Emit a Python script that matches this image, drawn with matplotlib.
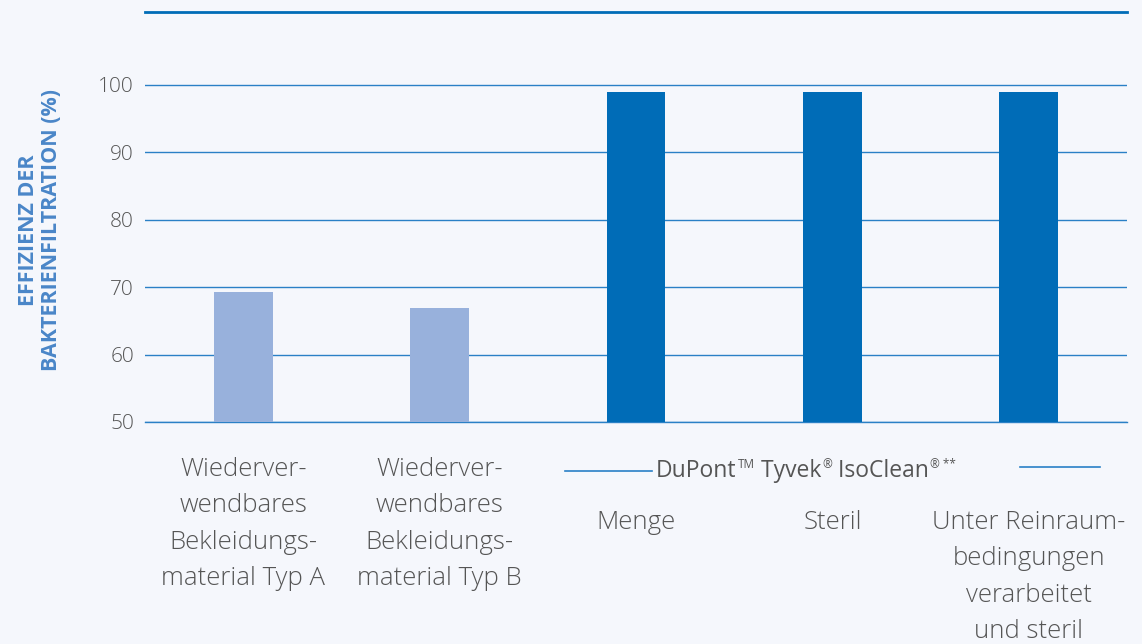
import matplotlib
matplotlib.use("Agg")
from matplotlib import pyplot as plt
from matplotlib import transforms

# Data
categories = [
    "Wiederver-\nwendbares\nBekleidungs-\nmaterial Typ A",
    "Wiederver-\nwendbares\nBekleidungs-\nmaterial Typ B",
    "Menge",
    "Steril",
    "Unter Reinraum-\nbedingungen\nverarbeitet\nund steril",
]
values = [69.3, 66.9, 98.9, 98.9, 98.9]
group_parts = [("DuPont", False), ("TM", True), (" Tyvek", False), ("®", True),
               (" IsoClean", False), ("® **", True)]
y_ticks = [50, 60, 70, 80, 90, 100]
y_label = "EFFIZIENZ DER\nBAKTERIENFILTRATION (%)"

bg = "#f5f7fc"
light_bar = "#98b1dc"
dark_bar = "#006cb7"
grid_col = "#2a80c6"
text_col = "#555555"
label_col = "#4a86c8"

plt.rcParams["font.family"] = ["Open Sans", "DejaVu Sans"]

W, H = 1142, 644
fig = plt.figure(figsize=(W / 100, H / 100), dpi=100, facecolor=bg)
ax = fig.add_axes([145 / W, 1 - 422 / H, 982 / W, 410 / H])
ax.set_facecolor(bg)

x = list(range(len(categories)))
colors = [light_bar, light_bar, dark_bar, dark_bar, dark_bar]
ax.bar(x, [v - 50 for v in values], bottom=50, width=0.30, color=colors, zorder=3)

ax.set_xlim(-0.5, len(categories) - 0.5)
ax.set_ylim(50, 110.8)
ax.set_yticks(y_ticks)
ax.set_yticklabels([str(t) for t in y_ticks], fontsize=15, color=text_col, fontweight="light")
ax.tick_params(axis="y", length=0, pad=8)
ax.set_xticks([])
ax.grid(axis="y", color=grid_col, linewidth=1, zorder=0)
ax.axhline(50, color=grid_col, linewidth=1, zorder=1, clip_on=False)

for side in ["left", "right", "bottom"]:
    ax.spines[side].set_visible(False)
ax.spines["top"].set_color(dark_bar)
ax.spines["top"].set_linewidth(2)

# category labels below the axis
trans = transforms.blended_transform_factory(ax.transData, fig.transFigure)
for i, cat in enumerate(categories):
    y0 = 1 - 457 / H if i < 2 else 1 - 510 / H
    ax.text(i, y0, cat, transform=trans, ha="center", va="top", fontsize=18.5,
            color=text_col, linespacing=1.6, fontweight="light")

# group label "DuPont(TM) Tyvek(R) IsoClean(R) **" built from pieces, centred
renderer = fig.canvas.get_renderer()
pieces = []
widths = []
for txt, sup in group_parts:
    t = fig.text(0, 0, txt, fontsize=8.5 if sup else 16.5, color=text_col,
                 transform=transforms.IdentityTransform(), va="baseline", ha="left")
    pieces.append((t, sup))
    widths.append(t.get_window_extent(renderer).width + (1 if sup else 0))
cx, base = 806, H - 477
xpos = cx - sum(widths) / 2
for (t, sup), w in zip(pieces, widths):
    t.set_position((xpos + (1 if sup else 0), base + (9 if sup else 0)))
    xpos += w

fig.add_artist(plt.Line2D([565 / W, 652 / W], [1 - 470.5 / H] * 2, color=grid_col, linewidth=1.2))
fig.add_artist(plt.Line2D([1020 / W, 1100 / W], [1 - 466.5 / H] * 2, color=grid_col, linewidth=1.2))

fig.text(40 / W, 1 - 230 / H, y_label, rotation=90, ha="center", va="center",
         fontsize=15.5, fontweight="bold", color=label_col, linespacing=1.1)

fig.savefig("out.png", dpi=100, facecolor=bg)
